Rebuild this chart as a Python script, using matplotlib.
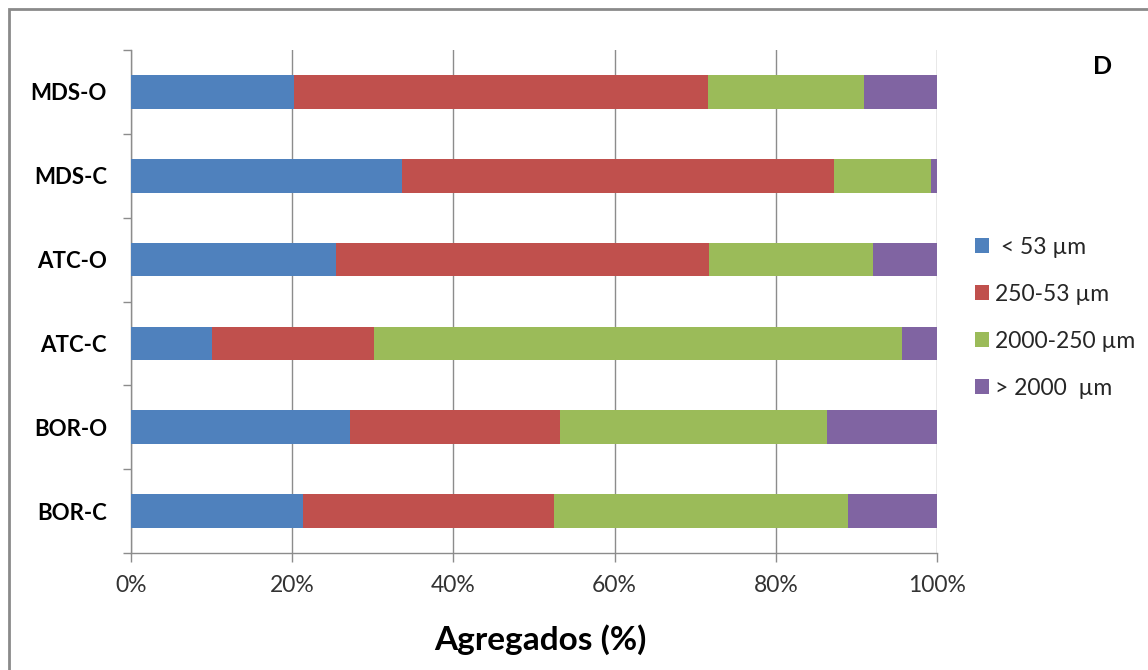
import numpy as np
import matplotlib
matplotlib.use("Agg")
import matplotlib.pyplot as plt
from matplotlib.patches import Rectangle
from matplotlib.ticker import PercentFormatter

# categories from bottom to top
sites = ['BOR-C', 'BOR-O', 'ATC-C', 'ATC-O', 'MDS-C', 'MDS-O']

# aggregate fractions (%)
lt53 = [21.3, 27.2, 10.0, 25.4, 33.6, 20.2]
f250_53 = [31.2, 26.0, 20.1, 46.3, 53.6, 51.4]
f2000_250 = [36.5, 33.2, 65.5, 20.3, 12.1, 19.3]
gt2000 = [11.0, 13.6, 4.4, 8.0, 0.7, 9.1]

labels = [' < 53 µm', '250-53 µm', '2000-250 µm', '> 2000  µm']
colors = ['#4F81BD', '#C0504D', '#9BBB59', '#8064A2']
xticks = [0, 20, 40, 60, 80, 100]

plt.rcParams['font.family'] = ['Lato', 'DejaVu Sans']

W, H = 1148, 670
fig = plt.figure(figsize=(W / 100, H / 100), dpi=100)
ax = fig.add_axes([131 / W, 1 - 553 / H, (937 - 131) / W, (553 - 50) / H])

y = np.arange(len(sites))
left = np.zeros(len(sites))
for vals, lab, col in zip([lt53, f250_53, f2000_250, gt2000], labels, colors):
    ax.barh(y, vals, left=left, height=0.4, color=col, label=lab, zorder=3)
    left += np.array(vals)

grid_c = '#8c8c8c'
ax.set_xlim(0, 100)
ax.set_ylim(-0.5, len(sites) - 0.5)
ax.set_xticks(xticks)
ax.xaxis.set_major_formatter(PercentFormatter(decimals=0))
ax.set_yticks(y)
ax.set_yticklabels(sites, fontweight='bold', fontsize=16, color='black')
ax.set_yticks(np.arange(len(sites) + 1) - 0.5, minor=True)
ax.tick_params(axis='y', which='major', length=0, pad=24 * 0.72)
ax.tick_params(axis='y', which='minor', length=8 * 0.72, color=grid_c, width=1)
ax.tick_params(axis='x', length=9 * 0.72, color=grid_c, width=1,
               labelsize=16.5, labelcolor='#333333', pad=9)
ax.grid(axis='x', color=grid_c, lw=1, zorder=0)
for s in ['top', 'right']:
    ax.spines[s].set_visible(False)
for s in ['left', 'bottom']:
    ax.spines[s].set_color(grid_c)
    ax.spines[s].set_linewidth(1)

fig.text(540 / W, 1 - 650 / H, 'Agregados (%)', ha='center', va='baseline',
         fontsize=24, fontweight='bold', color='black')
fig.text(1103 / W, 1 - 74 / H, 'D', ha='center', va='baseline',
         fontsize=18, fontweight='bold', color='black')

fig.legend(loc='upper left', bbox_to_anchor=(975 / W, 1 - 236.5 / H),
           frameon=False, fontsize=16.5, handlelength=0.61, handleheight=0.61,
           handletextpad=0.25, labelspacing=1.14, borderpad=0,
           borderaxespad=0, labelcolor='#262626')

fig.add_artist(Rectangle((9 / W, -0.1), 2, 1.1 - 9 / H, transform=fig.transFigure,
                         fill=False, edgecolor='#8a8a8a', lw=2))

fig.savefig('out.png', dpi=100)
